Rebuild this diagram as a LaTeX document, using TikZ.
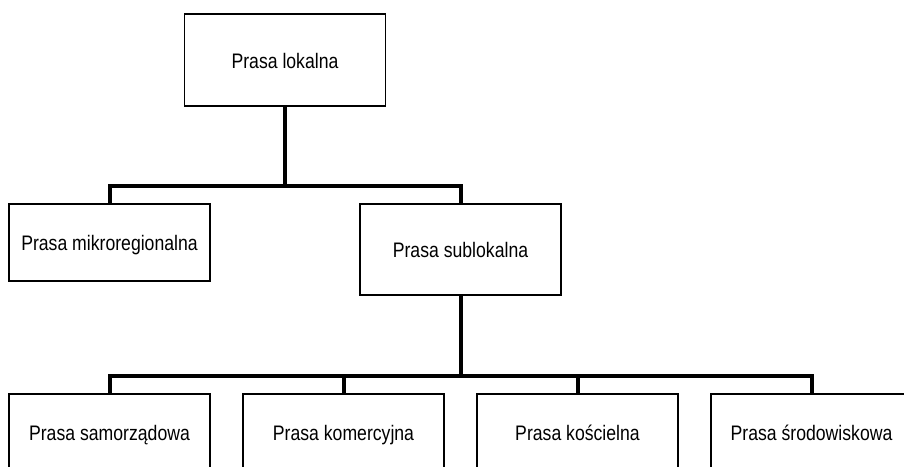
\documentclass[tikz,border=0pt]{standalone}
\usepackage{fontspec}
\setmainfont[FakeStretch=0.84]{Liberation Sans}
\usepackage{xcolor}

\begin{document}
\begin{tikzpicture}[
  x=1pt, y=-1pt,
  every node/.style={font=\fontsize{21}{24}\selectfont, align=center, inner sep=0pt,
    text height=16pt, text depth=0pt},
  box/.style={draw, line width=1.2pt, minimum width=201pt},
  conn/.style={line width=4pt}
]
  \useasboundingbox (0,0) rectangle (904,466);
  \clip (0,0) rectangle (904,466);

  \node[box, minimum height=92pt] (lok)   at (285, 60)    {Prasa lokalna};
  \node[box, minimum height=77pt] (mikro) at (109.5, 242.5) {Prasa mikroregionalna};
  \node[box, minimum height=91pt] (sub)   at (460.5, 249.5) {Prasa sublokalna};
  \node[box, minimum height=76pt] (samo)  at (109.5, 432) {Prasa samorządowa};
  \node[box, minimum height=76pt] (kom)   at (343.5, 432) {Prasa komercyjna};
  \node[box, minimum height=76pt] (kosc)  at (577.5, 432) {Prasa kościelna};
  \node[box, minimum height=76pt] (srod)  at (811.5, 432) {Prasa środowiskowa};

  \coordinate (bus1) at (0, 186);
  \coordinate (bus2) at (0, 376);

  % first level
  \draw[conn] (lok.south) -- (lok.south |- bus1);
  \draw[conn] (mikro.north) -- (mikro.north |- bus1) -- (sub.north |- bus1) -- (sub.north);

  % second level
  \draw[conn] (sub.south) -- (sub.south |- bus2);
  \draw[conn] (samo.north) -- (samo.north |- bus2) -- (srod.north |- bus2) -- (srod.north);
  \draw[conn] (kom.north) -- (kom.north |- bus2);
  \draw[conn] (kosc.north) -- (kosc.north |- bus2);
\end{tikzpicture}
\end{document}
